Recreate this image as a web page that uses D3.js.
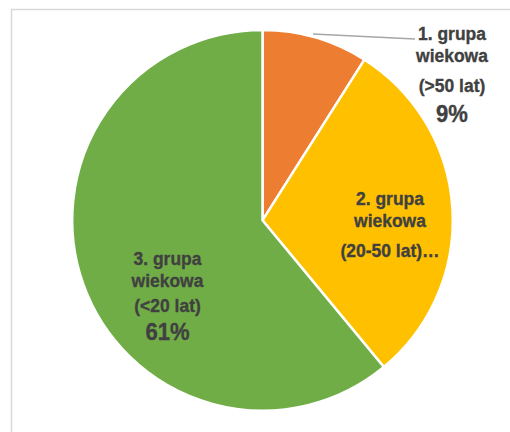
<!DOCTYPE html>
<html>
<head>
<meta charset="utf-8">
<script src="https://cdn.jsdelivr.net/npm/d3@7"></script>
<style>
  html, body { margin: 0; padding: 0; background: #fff; }
  svg { display: block; }
  .lbl { font-family: "Liberation Sans Narrow", "Arial Narrow", "Liberation Sans", Arial, sans-serif; font-weight: bold; fill: #404040; stroke: #404040; stroke-width: 0.35px; }
</style>
</head>
<body>
<svg id="chart" width="510" height="432"></svg>
<script>
// Age groups and their share (%)
const categories = ["1. grupa wiekowa (>50 lat)", "2. grupa wiekowa (20-50 lat)", "3. grupa wiekowa (<20 lat)"];
const values = [9, 30, 61];
const colors = ["#ED7D31", "#FFC000", "#70AD47"];
// Label lines as shown on the chart
const labelLines = [
  ["1. grupa", "wiekowa", "(>50 lat)"],
  ["2. grupa", "wiekowa", "(20-50 lat)…"],
  ["3. grupa", "wiekowa", "(<20 lat)"]
];
const percentLabels = ["9%", null, "61%"];

const svg = d3.select("#chart");
const W = 510, H = 432;

// chart area frame
svg.append("rect")
  .attr("x", 11.5).attr("y", 9.5)
  .attr("width", W + 10).attr("height", H + 10)
  .attr("fill", "#fff").attr("stroke", "#D9D9D9").attr("stroke-width", 1.5);

const cx = 262.5, cy = 220.3, R = 190.3;
const g = svg.append("g").attr("transform", `translate(${cx},${cy})`);

const pie = d3.pie().sort(null).value(d => d);
const arcs = pie(values);
const arc = d3.arc().innerRadius(0).outerRadius(R);

g.selectAll("path.slice")
  .data(arcs)
  .join("path")
  .attr("class", "slice")
  .attr("d", arc)
  .attr("fill", (d, i) => colors[i])
  .attr("stroke", "#fff")
  .attr("stroke-width", 2.5)
  .attr("stroke-linejoin", "miter");

// label anchors (offset from pie centre) and line baselines
const labelPos = [
  { x: 189.5, ys: [-180.3, -158.6, -128.6], py: -98.5 },
  { x: 127.5, ys: [-15.3, 6.4, 36.7], py: null },
  { x: -95, ys: [44.7, 66.4, 91.4], py: 119.7 }
];

// leader line for the outside label
const a0 = arcs[0];
const midA = (a0.startAngle + a0.endAngle) / 2 - 0.018;
const startR = R + 2.7;
const lx0 = Math.sin(midA) * startR, ly0 = -Math.cos(midA) * startR;
g.append("polyline")
  .attr("points", `${lx0},${ly0} ${152.5},${-181.3}`)
  .attr("fill", "none")
  .attr("stroke", "#A6A6A6")
  .attr("stroke-width", 1.4);

const addText = (x, y, size, t) => {
  g.append("g")
    .attr("transform", `translate(${x},${y}) scale(0.92,1)`)
    .append("text").attr("class", "lbl")
    .attr("text-anchor", "middle")
    .attr("font-size", size)
    .text(t);
};

labelPos.forEach((p, i) => {
  labelLines[i].forEach((t, j) => addText(p.x, p.ys[j], 19, t));
  if (percentLabels[i]) addText(p.x, p.py, 24, percentLabels[i]);
});
</script>
</body>
</html>
